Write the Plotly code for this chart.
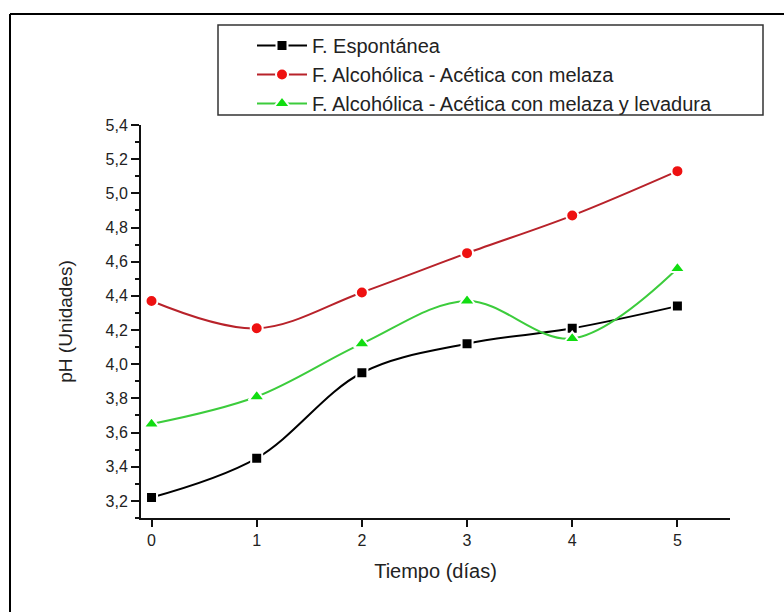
import plotly.graph_objects as go

dias = [0, 1, 2, 3, 4, 5]
espontanea = [3.22, 3.45, 3.95, 4.12, 4.21, 4.34]
melaza = [4.37, 4.21, 4.42, 4.65, 4.87, 5.13]
levadura = [3.65, 3.81, 4.12, 4.37, 4.15, 4.56]

nombres = ["F. Espontánea",
           "F. Alcohólica - Acética con melaza",
           "F. Alcohólica - Acética con melaza y levadura"]
y_ticks = [3.2, 3.4, 3.6, 3.8, 4.0, 4.2, 4.4, 4.6, 4.8, 5.0, 5.2, 5.4]

W, H = 784, 612
L, R, T, B = 141, 730, 125, 518


def px(x):
    return (x - L) / (R - L)


def py(y):
    return (B - y) / (B - T)


FONT = "Liberation Sans, Arial, sans-serif"

fig = go.Figure()
series = [
    (espontanea, nombres[0], "#000000", "#000000", "square", 11),
    (melaza, nombres[1], "#b8222a", "#ee1111", "circle", 12),
    (levadura, nombres[2], "#3ccc3c", "#11dd11", "triangle-up", 14),
]
for ys, name, lc, mc, sym, sz in series:
    fig.add_trace(go.Scatter(
        x=dias, y=ys, name=name, mode="lines+markers",
        line=dict(color=lc, width=2, shape="spline", smoothing=1.0),
        marker=dict(symbol=sym, size=sz, color=mc,
                    line=dict(color="white", width=2)),
    ))

fig.update_layout(
    width=W, height=H,
    margin=dict(l=L, r=W - R, t=T, b=H - B),
    paper_bgcolor="white", plot_bgcolor="white",
    separators=", ",
    font=dict(family=FONT, size=16, color="#222222"),
    showlegend=True,
    legend=dict(
        x=px(252), y=py(26), xanchor="left", yanchor="top",
        bgcolor="rgba(0,0,0,0)", borderwidth=0,
        font=dict(family=FONT, size=20, color="#222222"),
        tracegroupgap=0, itemwidth=50,
    ),
    shapes=[
        # legend box
        dict(type="rect", xref="paper", yref="paper",
             x0=px(218), x1=px(763), y0=py(115), y1=py(25),
             line=dict(color="#333333", width=1.5), layer="below"),
        # outer frame (left and top edges)
        dict(type="line", xref="paper", yref="paper",
             x0=px(10), x1=px(10), y0=py(14), y1=py(700),
             line=dict(color="#000000", width=2)),
        dict(type="line", xref="paper", yref="paper",
             x0=px(10), x1=px(900), y0=py(14), y1=py(14),
             line=dict(color="#000000", width=2)),
    ],
)

fig.update_xaxes(
    range=[-0.1, 5.5], tickvals=dias, ticktext=[str(d) for d in dias],
    showline=True, linecolor="#111111", linewidth=2,
    ticks="outside", ticklen=7, tickwidth=2, tickcolor="#111111",
    showgrid=False, zeroline=False,
    tickfont=dict(family=FONT, size=16, color="#222222"),
    title=dict(text="Tiempo (días)", standoff=16,
               font=dict(family=FONT, size=20, color="#222222")),
)
fig.update_yaxes(
    range=[3.1, 5.4], tickvals=y_ticks, tickformat=".1f",
    showline=True, linecolor="#111111", linewidth=2,
    ticks="outside", ticklen=8, tickwidth=2, tickcolor="#111111",
    minor=dict(dtick=0.1, tick0=3.1, ticks="outside", ticklen=4,
               tickwidth=2, tickcolor="#111111"),
    showgrid=False, zeroline=False,
    tickfont=dict(family=FONT, size=16, color="#222222"),
    title=dict(text="pH (Unidades)", standoff=28,
               font=dict(family=FONT, size=19, color="#222222")),
)

fig.write_html("out.html")
